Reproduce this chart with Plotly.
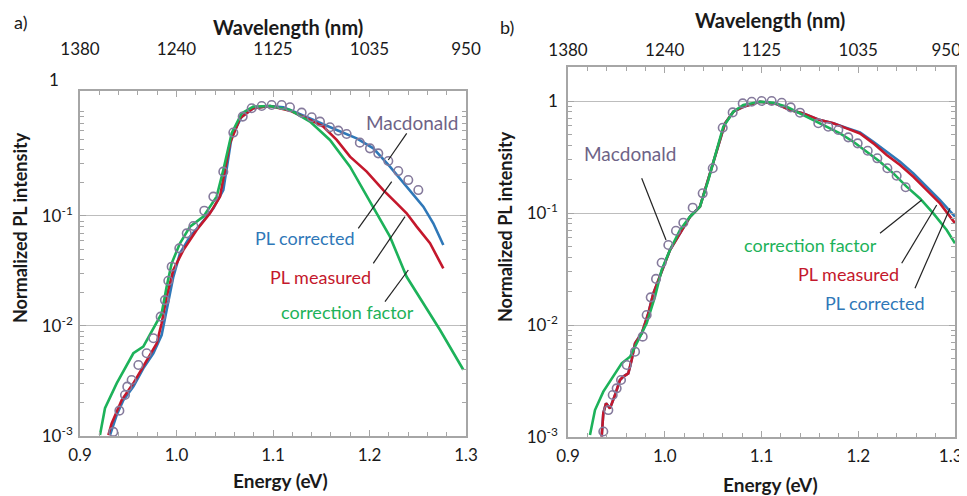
import plotly.graph_objects as go

# ---------------- data: panel a ----------------
a_mac_E = [0.9345, 0.9408, 0.9466, 0.949, 0.9535, 0.9605, 0.9691, 0.976, 0.9836, 0.988, 0.9915, 0.995,
           1.0029, 1.0106, 1.0175, 1.0288, 1.0382, 1.0485, 1.0589, 1.0686, 1.0779, 1.0883, 1.0986, 1.109,
           1.1176, 1.1297, 1.1401, 1.1487, 1.159, 1.1677, 1.1763, 1.190, 1.2005, 1.2091, 1.2195, 1.2298,
           1.2402, 1.2506]
a_mac_I = [0.00109, 0.0017, 0.00236, 0.00281, 0.00323, 0.00442, 0.00565, 0.00773, 0.01216, 0.0172, 0.0258,
           0.0346, 0.0508, 0.0695, 0.081, 0.1117, 0.150, 0.253, 0.573, 0.80, 0.953, 1.0, 1.02, 1.02, 0.973,
           0.87, 0.79, 0.72, 0.64, 0.597, 0.556, 0.464, 0.412, 0.371, 0.316, 0.256, 0.212, 0.172]

a_cor_E = [0.9311, 0.938, 0.9449, 0.9553, 0.9656, 0.976, 0.9846, 0.9915, 0.9967, 1.0036, 1.014, 1.0244,
           1.0382, 1.0485, 1.0572, 1.0675, 1.0796, 1.0969, 1.1107, 1.1245, 1.1453, 1.166, 1.1867, 1.204,
           1.2212, 1.2385, 1.2558, 1.2661, 1.2765]
a_cor_I = [0.00102, 0.00155, 0.00212, 0.00281, 0.00412, 0.00565, 0.00828, 0.0161, 0.028, 0.0458, 0.0649,
           0.0828, 0.1174, 0.172, 0.526, 0.80, 0.953, 1.0, 0.973, 0.87, 0.72, 0.605, 0.508, 0.412, 0.281,
           0.185, 0.1215, 0.0858, 0.0545]

a_meas_E = [0.9294, 0.9328, 0.9432, 0.9553, 0.9674, 0.9795, 0.9846, 0.9898, 0.9967, 1.0071, 1.0209, 1.0347,
            1.0451, 1.0554, 1.0658, 1.0796, 1.0969, 1.1176, 1.1383, 1.1521, 1.166, 1.1798, 1.1971, 1.2143,
            1.2282, 1.2385, 1.2489, 1.2627, 1.2765]
a_meas_I = [0.00102, 0.0013, 0.00212, 0.00301, 0.00458, 0.00695, 0.01057, 0.0185, 0.0323, 0.049, 0.0746,
            0.1057, 0.15, 0.458, 0.773, 0.953, 1.0, 0.907, 0.746, 0.649, 0.491, 0.346, 0.253, 0.172, 0.130,
            0.1057, 0.080, 0.0565, 0.0334]

a_fac_E = [0.9207, 0.9259, 0.938, 0.9553, 0.9656, 0.9795, 0.9846, 0.9898, 0.995, 1.0036, 1.014, 1.0278,
           1.0416, 1.0485, 1.0572, 1.0675, 1.0796, 1.0969, 1.1176, 1.1383, 1.159, 1.1798, 1.1936, 1.2074,
           1.2212, 1.2385, 1.2558, 1.2731, 1.2972]
a_fac_I = [0.00102, 0.00179, 0.00301, 0.00565, 0.00649, 0.01057, 0.013, 0.0228, 0.0371, 0.0565, 0.080,
           0.0986, 0.15, 0.262, 0.565, 0.857, 0.986, 1.0, 0.92, 0.72, 0.491, 0.281, 0.172, 0.1057, 0.0649,
           0.028, 0.0161, 0.0092, 0.004]

# ---------------- data: panel b ----------------
b_mac_E = [0.9365, 0.9417, 0.9462, 0.9503, 0.9548, 0.9607, 0.9693, 0.9772, 0.9813, 0.9855, 0.991, 0.9968,
           1.0037, 1.0116, 1.0192, 1.0289, 1.0392, 1.0496, 1.0599, 1.0702, 1.0806, 1.0899, 1.1002, 1.1105,
           1.1209, 1.1302, 1.1398, 1.1587, 1.169, 1.1794, 1.1897, 1.1994, 1.2098, 1.2197, 1.2301, 1.2397,
           1.249]
b_mac_I = [0.00112, 0.00174, 0.00237, 0.00272, 0.00323, 0.00439, 0.00578, 0.00787, 0.01228, 0.01767,
           0.0258, 0.036, 0.0518, 0.0695, 0.082, 0.1116, 0.150, 0.251, 0.578, 0.792, 0.953, 0.986, 1.0, 1.0,
           0.966, 0.878, 0.787, 0.633, 0.590, 0.551, 0.474, 0.419, 0.360, 0.308, 0.251, 0.215, 0.170]

b_meas_E = [0.9348, 0.9365, 0.9393, 0.9434, 0.9486, 0.9537, 0.9572, 0.9623, 0.9658, 0.9693, 0.9762, 0.983,
            0.9882, 0.9968, 1.0054, 1.0158, 1.0261, 1.0364, 1.045, 1.0537, 1.0623, 1.0709, 1.0812, 1.0985,
            1.1157, 1.1295, 1.1433, 1.1605, 1.1742, 1.188, 1.2018, 1.2156, 1.2294, 1.2432, 1.257, 1.2708,
            1.2845, 1.3]
b_meas_I = [0.00101, 0.00163, 0.002, 0.0018, 0.00237, 0.00323, 0.00346, 0.0037, 0.00487, 0.00686, 0.00843,
            0.0127, 0.0192, 0.0299, 0.0468, 0.0658, 0.0927, 0.114, 0.204, 0.365, 0.632, 0.803, 0.889, 0.986,
            0.94, 0.831, 0.776, 0.676, 0.632, 0.570, 0.514, 0.419, 0.330, 0.268, 0.211, 0.160, 0.122, 0.081]

b_cor_E = [0.9348, 0.9365, 0.9393, 0.9434, 0.9486, 0.9537, 0.9572, 0.9623, 0.9658, 0.9693, 0.9762, 0.983,
           0.9882, 0.9968, 1.0054, 1.0158, 1.0261, 1.0364, 1.045, 1.0537, 1.0623, 1.0709, 1.0812, 1.0985,
           1.1157, 1.1295, 1.1433, 1.1605, 1.1742, 1.188, 1.2018, 1.2156, 1.2294, 1.2432, 1.257, 1.2708,
           1.2845, 1.3]
b_cor_I = [0.00101, 0.00163, 0.002, 0.0018, 0.00237, 0.00323, 0.00346, 0.0037, 0.00487, 0.00686, 0.00843,
           0.0127, 0.0192, 0.0299, 0.0468, 0.0658, 0.0927, 0.114, 0.204, 0.365, 0.632, 0.803, 0.889, 0.986,
           0.94, 0.831, 0.776, 0.676, 0.632, 0.575, 0.525, 0.433, 0.353, 0.287, 0.226, 0.172, 0.1306, 0.0927]

b_fac_E = [0.9227, 0.9279, 0.9365, 0.9468, 0.9555, 0.9641, 0.971, 0.9813, 0.9899, 0.9968, 1.0054, 1.0158,
           1.0261, 1.0364, 1.045, 1.0519, 1.0605, 1.0709, 1.0812, 1.0985, 1.1122, 1.126, 1.1398, 1.1536,
           1.1674, 1.1811, 1.1949, 1.2087, 1.2225, 1.2363, 1.25, 1.2638, 1.2776, 1.2914, 1.3]
b_fac_I = [0.00104, 0.00174, 0.00254, 0.00346, 0.00455, 0.00521, 0.00686, 0.01035, 0.0179, 0.031, 0.0468,
           0.0705, 0.0927, 0.114, 0.197, 0.318, 0.590, 0.803, 0.921, 0.986, 0.966, 0.889, 0.776, 0.676, 0.590,
           0.514, 0.433, 0.353, 0.287, 0.226, 0.172, 0.135, 0.0993, 0.0705, 0.0536]

# ---------------- tick labels ----------------
energy_ticks = [0.9, 1.0, 1.1, 1.2, 1.3]
energy_labels = ["0.9", "1.0", "1.1", "1.2", "1.3"]
wavelength_labels = ["1380", "1240", "1125", "1035", "950"]
y_ticks_a = [0.001, 0.01, 0.1]
y_labels_a = ["10<sup>-3</sup>", "10<sup>-2</sup>", "10<sup>-1</sup>"]
y_ticks_b = [0.001, 0.01, 0.1, 1]
y_labels_b = ["10<sup>-3</sup>", "10<sup>-2</sup>", "10<sup>-1</sup>", "1"]

# ---------------- styles ----------------
OFF = 8                      # page body margin of the browser
W, H = 967 - OFF, 496 - OFF  # figure size so that it fills the window
FONT = "Lato"
C_BLUE = "#2f78b8"
C_RED = "#c4182c"
C_GREEN = "#1db25a"
C_MAC = "#857a9c"
C_MAC_TXT = "#6e6387"
AXC = "#a6a6a6"
GRID = "#bdbdbd"
TXT = "#1a1a1a"
PAD = "&nbsp;"


def px(x):
    return (x - OFF) / W


def py(y):
    return 1 - (y - OFF) / H


def edge_pad(labels, n):
    # keep the last label inside the window (it sits on the right edge)
    return labels[:-1] + [labels[-1] + PAD * n]


minor_log = [m * 10 ** e for e in (-3, -2, -1, 0) for m in range(2, 10)]

fig = go.Figure()


def add_panel(xa, ya, xa_top, mac, cor, meas, fac):
    for (E, I, c) in [(cor[0], cor[1], C_BLUE), (meas[0], meas[1], C_RED), (fac[0], fac[1], C_GREEN)]:
        fig.add_trace(go.Scatter(x=E, y=I, mode="lines", line=dict(color=c, width=2.6),
                                 xaxis=xa, yaxis=ya, showlegend=False, hoverinfo="skip"))
    fig.add_trace(go.Scatter(x=mac[0], y=mac[1], mode="markers",
                             marker=dict(symbol="circle-open", size=8.5, color=C_MAC, line=dict(width=1.6)),
                             xaxis=xa, yaxis=ya, showlegend=False, hoverinfo="skip"))
    fig.add_trace(go.Scatter(x=[], y=[], xaxis=xa_top, yaxis=ya, showlegend=False, hoverinfo="skip"))


add_panel("x", "y", "x2", (a_mac_E, a_mac_I), (a_cor_E, a_cor_I), (a_meas_E, a_meas_I), (a_fac_E, a_fac_I))
add_panel("x3", "y2", "x4", (b_mac_E, b_mac_I), (b_cor_E, b_cor_I), (b_meas_E, b_meas_I), (b_fac_E, b_fac_I))

tickfont = dict(family=FONT, size=17, color=TXT)


def xbottom(domain, anchor, labels):
    return dict(domain=domain, anchor=anchor, range=[0.9, 1.3], tickmode="array", tickvals=energy_ticks,
                ticktext=labels, ticks="inside", ticklen=6, tickcolor=AXC, tickwidth=1.2,
                minor=dict(tickmode="linear", tick0=0.9, dtick=0.02, ticks="inside", ticklen=4,
                           tickcolor=AXC, tickwidth=1.2),
                showline=True, linecolor=AXC, linewidth=1.6, mirror=True, showgrid=False, zeroline=False,
                tickfont=tickfont, ticklabelstandoff=3, ticklabeloverflow="allow", automargin=False)


def xtop(over, anchor, standoff, labels):
    return dict(overlaying=over, side="top", anchor=anchor, range=[0.9, 1.3], tickmode="array",
                tickvals=energy_ticks, ticktext=labels, ticks="inside", ticklen=6, tickcolor=AXC,
                tickwidth=1.2,
                minor=dict(tickmode="linear", tick0=0.9, dtick=0.02, ticks="inside", ticklen=4,
                           tickcolor=AXC, tickwidth=1.2),
                showline=False, showgrid=False, zeroline=False, tickfont=tickfont,
                ticklabelstandoff=standoff, ticklabeloverflow="allow", automargin=False)


def yax(domain, anchor, rng, tv, tt, standoff):
    return dict(domain=domain, anchor=anchor, type="log", range=rng, tickmode="array", tickvals=tv,
                ticktext=tt, ticks="inside", ticklen=6, tickcolor=AXC, tickwidth=1.2,
                minor=dict(tickmode="array", tickvals=minor_log, ticks="inside", ticklen=4, tickcolor=AXC,
                           tickwidth=1.2, showgrid=False),
                showline=True, linecolor=AXC, linewidth=1.6, mirror="ticks", showgrid=True, gridcolor=GRID,
                gridwidth=1.2, zeroline=False, tickfont=tickfont, ticklabelstandoff=standoff,
                automargin=False)


fig.update_layout(
    width=W, height=H, margin=dict(l=0, r=0, t=0, b=0, autoexpand=False),
    paper_bgcolor="white", plot_bgcolor="white",
    font=dict(family=FONT, color=TXT),
    xaxis=xbottom([px(80), px(466)], "y", energy_labels),
    xaxis2=xtop("x", "y", 32, wavelength_labels),
    yaxis=yax([py(436), py(91)], "x", [-3, 0.136], y_ticks_a, y_labels_a, 2),
    xaxis3=xbottom([px(568), px(955)], "y2", edge_pad(energy_labels, 2)),
    xaxis4=xtop("x3", "y2", 7, edge_pad(wavelength_labels, 4)),
    yaxis2=yax([py(437), py(67)], "x3", [-3, 0.304], y_ticks_b, y_labels_b, 5),
)

ann = []


def text(x, y, s, color=TXT, size=19, bold=False, angle=0):
    ann.append(dict(x=px(x), y=py(y), xref="paper", yref="paper", text=("<b>%s</b>" % s) if bold else s,
                    showarrow=False, textangle=angle, xanchor="center", yanchor="middle",
                    font=dict(family=FONT, size=size, color=color)))


# panel labels and titles
text(20, 22, "a)", size=18)
text(507, 27, "b)", size=18)
text(288, 27, "Wavelength (nm)", bold=True, size=20)
text(770, 20, "Wavelength (nm)", bold=True, size=20)
text(280, 480, "Energy (eV)", bold=True, size=19)
text(770, 484, "Energy (eV)", bold=True, size=19)
text(20, 228, "Normalized PL intensity", bold=True, size=18, angle=-90)
text(505, 227, "Normalized PL intensity", bold=True, size=18, angle=-90)
text(54, 80, "1", size=17)

# curve labels panel a
text(412, 123, "Macdonald", color=C_MAC_TXT, size=19)
text(305, 238, "PL corrected", color=C_BLUE, size=18)
text(320, 277, "PL measured", color=C_RED, size=18)
text(347, 312, "correction factor", color=C_GREEN, size=18)
# curve labels panel b
text(630, 153, "Macdonald", color=C_MAC_TXT, size=19)
text(810, 245, "correction factor", color=C_GREEN, size=18)
text(848, 274, "PL measured", color=C_RED, size=18)
text(875, 303, "PL corrected", color=C_BLUE, size=18)

fig.update_layout(annotations=ann)

leaders = [
    (406.7, 133.3, 388.3, 160),
    (358.3, 228.3, 391.7, 181.7),
    (373.3, 263.3, 405, 216.7),
    (385, 301.7, 408.3, 270),
    (641.7, 178.3, 666, 240),
    (880, 233.3, 921.7, 200),
    (901.7, 263.3, 936.7, 205),
    (915, 288.3, 950, 208.3),
]
fig.update_layout(shapes=[dict(type="line", xref="paper", yref="paper", x0=px(a), y0=py(b), x1=px(c),
                               y1=py(d), line=dict(color="#222222", width=1.2)) for a, b, c, d in leaders])

fig.write_html("out.html")
